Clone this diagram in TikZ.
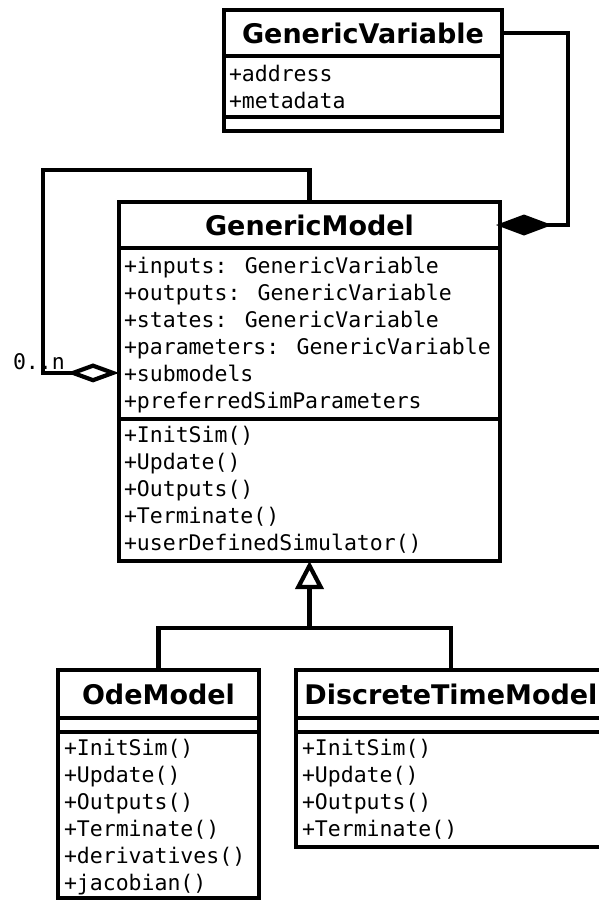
\documentclass[tikz,border=0pt]{standalone}
\usepackage{fontspec}
\usetikzlibrary{arrows.meta,calc}
\newfontfamily\umlmono{DejaVu Sans Mono}
\newfontfamily\umlsans{DejaVu Sans}
\begin{document}
\begin{tikzpicture}[x=1pt,y=-1pt,
  comp/.style={draw,line width=4.2pt,inner sep=0pt,outer sep=0pt,anchor=north west},
  ttl/.style={comp,font=\umlsans\bfseries\fontsize{27}{31}\selectfont},
  mem/.style={anchor=base west,inner sep=0pt,outer sep=0pt,font=\umlmono\fontsize{21.5}{27}\selectfont},
  conn/.style={line width=4.2pt,line join=miter}]
\useasboundingbox (0,0) rectangle (599,900);

% GenericVariable
\node[ttl,minimum width=278pt,minimum height=46pt] (gvt) at (224,10) {GenericVariable};
\node[comp,minimum width=278pt,minimum height=61pt] (gva) at (gvt.south west) {};
\node[comp,minimum width=278pt,minimum height=14pt] (gvm) at (gva.south west) {};
\node[mem] (gva1) at (229,81.5) {+address};
\node[mem] (gva2) at (229,108.5) {+metadata};

% GenericModel
\node[ttl,minimum width=381pt,minimum height=46pt] (gmt) at (119,202) {GenericModel};
\node[comp,minimum width=381pt,minimum height=171pt] (gma) at (gmt.south west) {};
\node[comp,minimum width=381pt,minimum height=142pt] (gmm) at (gma.south west) {};
\foreach \t [count=\i] in {+inputs: GenericVariable,+outputs: GenericVariable,+states: GenericVariable,+parameters: GenericVariable,+submodels,+preferredSimParameters}
  \node[mem] (gma\i) at (124,{273+27*(\i-1)}) {\t};
\foreach \t [count=\i] in {+InitSim(),+Update(),+Outputs(),+Terminate(),+userDefinedSimulator()}
  \node[mem] (gmm\i) at (124,{442.5+27*(\i-1)}) {\t};

% OdeModel
\node[ttl,minimum width=201pt,minimum height=48pt] (odet) at (58,670) {OdeModel};
\node[comp,minimum width=201pt,minimum height=14pt] (odea) at (odet.south west) {};
\node[comp,minimum width=201pt,minimum height=166pt] (odem) at (odea.south west) {};
\foreach \t [count=\i] in {+InitSim(),+Update(),+Outputs(),+Terminate(),+derivatives(),+jacobian()}
  \node[mem] (odem\i) at (64,{755+27*(\i-1)}) {\t};

% DiscreteTimeModel
\node[ttl,minimum width=310pt,minimum height=48pt] (dtt) at (296,670) {DiscreteTimeModel};
\node[comp,minimum width=310pt,minimum height=14pt] (dta) at (dtt.south west) {};
\node[comp,minimum width=310pt,minimum height=115pt] (dtm) at (dta.south west) {};
\foreach \t [count=\i] in {+InitSim(),+Update(),+Outputs(),+Terminate()}
  \node[mem] (dtm\i) at (302,{755+27*(\i-1)}) {\t};

% composition GenericVariable -> GenericModel
\draw[conn,shorten >=-4pt,-{Diamond[length=56pt,width=21pt]}] (gvt.east) -- ++(66,0) |- (gmt.east);

% self aggregation (submodels)
\draw[conn,-{Diamond[open,fill=white,length=52pt,width=19pt]}] (gmt.north) -- ++(0,-32) -- ++(-266.5,0) |- (gma.west |- gma5.west);
\node[mem] (mult) at (13,369) {0..n};

% generalization
\coordinate (joint) at ([yshift=-67pt]gmm.south);
\draw[conn] (odet.north) |- (joint) -| (dtt.north);
\draw[conn,-{Triangle[open,fill=white,length=28pt,width=28pt]}] (joint) -- (gmm.south);
\end{tikzpicture}
\end{document}
